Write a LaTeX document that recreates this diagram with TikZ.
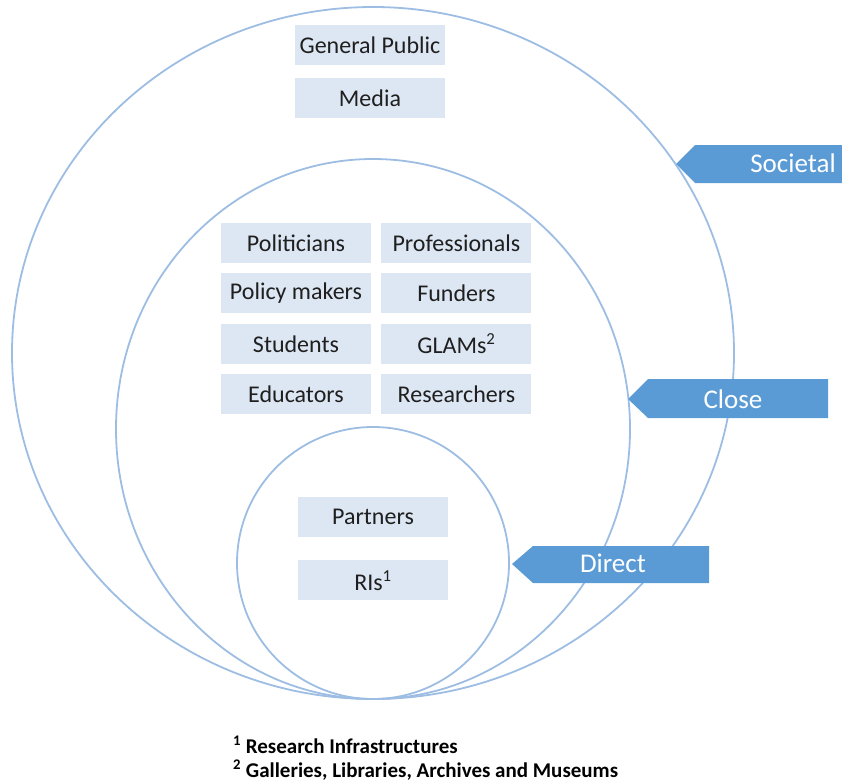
\documentclass[tikz,border=0pt]{standalone}
\usepackage{fontspec}
\setmainfont{Carlito}
\usepackage{tikz}
\usetikzlibrary{positioning}
\definecolor{ringblue}{HTML}{9DBDE3}
\definecolor{tagblue}{HTML}{5B9BD5}
\definecolor{boxblue}{HTML}{DDE7F3}

\begin{document}
\begin{tikzpicture}[
				x=1pt, y=-1pt,
				node distance=10pt,
				group/.style={fill=boxblue, minimum width=150pt, minimum height=40pt, inner sep=0pt,
					text=black!88, font=\fontsize{24}{28}\selectfont},
				ring/.style={draw=ringblue, line width=1.8pt},
				tag/.style={fill=tagblue},
				taglabel/.style={text=white, font=\fontsize{27}{32}\selectfont},
				note/.style={anchor=west, inner sep=0pt, font=\bfseries\fontsize{21}{24}\selectfont}]

			\useasboundingbox (0,0) rectangle (842,781);

			% the three circles, touching at the bottom
			\draw[ring] (373,353) ellipse [x radius=361pt, y radius=346pt];
			\draw[ring] (373,429) ellipse [x radius=257pt, y radius=270pt];
			\draw[ring] (373,563) circle [radius=136pt];

			% societal
			\node[group] (public) at (370,45) {General Public};
			\node[group, below=13pt of public] (media) {Media};

			% close
			\node[group] (politicians) at (296,243) {Politicians};
			\node[group, right=of politicians] (professionals) {Professionals};
			\node[group, below=of politicians] (policy) {Policy makers};
			\node[group, right=of policy] (funders) {Funders};
			\node[group, below=of policy] (students) {Students};
			\node[group, right=of students] (glams) {GLAMs\textsuperscript{2}};
			\node[group, below=of students] (educators) {Educators};
			\node[group, right=of educators] (researchers) {Researchers};

			% direct
			\node[group] (partners) at (373,517) {Partners};
			\node[group, below=23pt of partners] (ris) {RIs\textsuperscript{1}};

			% level tags
			\fill[tag] (676,164) -- (695,145) -- (842,145) -- (842,183) -- (695,183) -- cycle;
			\fill[tag] (628,399) -- (648,379) -- (828,379) -- (828,418) -- (648,418) -- cycle;
			\fill[tag] (512,564) -- (533,546) -- (709,546) -- (709,583) -- (533,583) -- cycle;
			\node[taglabel] (societal) at (793,163) {Societal};
			\node[taglabel] (close) at (733,399) {Close};
			\node[taglabel] (direct) at (613,563) {Direct};

			% footnotes
			\node[note] (fn1) at (233,745) {\textsuperscript{1} Research Infrastructures};
			\node[note] (fn2) at (233,770) {\textsuperscript{2} Galleries, Libraries, Archives and Museums};
		\end{tikzpicture}
\end{document}
